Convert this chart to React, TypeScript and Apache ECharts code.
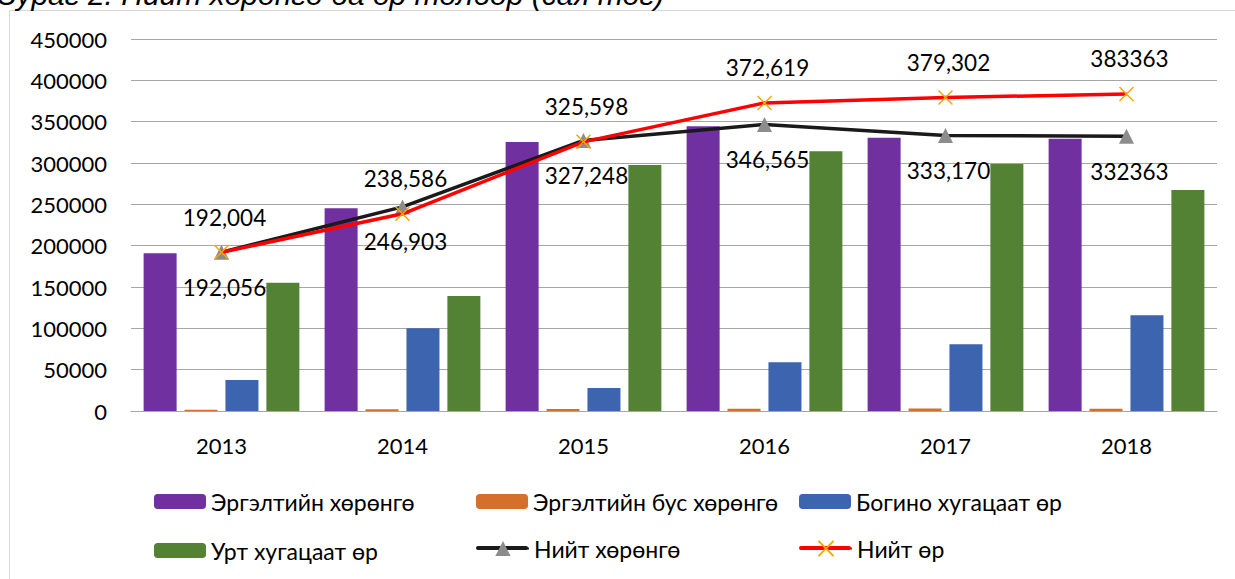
import React, { useEffect, useRef } from "react";
import * as echarts from "echarts";

const categories = ["2013", "2014", "2015", "2016", "2017", "2018"];
const yTicks = { min: 0, max: 450000, interval: 50000 };

const currentAssets = [190800, 245200, 325400, 344500, 330600, 329400];
const nonCurrentAssets = [1600, 2200, 2500, 2600, 2900, 2800];
const shortTermDebt = [37500, 100000, 27800, 58900, 80600, 115700];
const longTermDebt = [155200, 139100, 297600, 314100, 298800, 267300];
const totalAssets = [192056, 246903, 327248, 346565, 333170, 332363];
const totalDebt = [192004, 238586, 325598, 372619, 379302, 383363];
const totalAssetLabels = ["192,056", "246,903", "327,248", "346,565", "333,170", "332363"];
const totalDebtLabels = ["192,004", "238,586", "325,598", "372,619", "379,302", "383363"];

const seriesNames = [
  "Эргэлтийн хөрөнгө",
  "Эргэлтийн бус хөрөнгө",
  "Богино хугацаат өр",
  "Урт хугацаат өр",
  "Нийт хөрөнгө",
  "Нийт өр",
];
const titleText = "Зураг 2. Нийт хөрөнгө ба өр төлбөр (сая төг)";

const FONT = "Lato, 'Noto Sans', sans-serif";

export default function App() {
  const ref = useRef<HTMLDivElement>(null);
  useEffect(() => {
    if (!ref.current) return;
    const chart = echarts.init(ref.current, null, { renderer: "svg" });
    const legendPos = [
      [154, 490],
      [476, 490],
      [799, 490],
      [154, 539],
      [476, 539],
      [799, 539],
    ];
    const legends = seriesNames.map((n, i) => {
      const isLine = i >= 4;
      return {
        data: [n],
        left: legendPos[i][0],
        top: isLine ? legendPos[i][1] - 2 : legendPos[i][1],
        itemWidth: 52,
        itemHeight: isLine ? 19 : 15,
        itemGap: 0,
        padding: 0,
        selectedMode: false,
        z: 4,
        textStyle: { fontSize: 23, color: "#000", fontFamily: FONT },
      };
    });
    const barBase = { type: "bar", barWidth: 33, barGap: "24%" };
    chart.setOption({
      animation: false,
      backgroundColor: "#fff",
      textStyle: { fontFamily: FONT },
      graphic: [
        {
          type: "rect",
          shape: { x: 9.5, y: 10.5, width: 1400, height: 800 },
          style: { fill: "none", stroke: "#d9d9d9", lineWidth: 1 },
          silent: true,
          z: 0,
        },
        {
          type: "rect",
          shape: { x: 476, y: 546, width: 52, height: 4, r: 2 },
          style: { fill: "#1a1a1a" },
          silent: true,
          z: 0,
        },
        {
          type: "rect",
          shape: { x: 799, y: 546, width: 52, height: 4, r: 2 },
          style: { fill: "#ff0000" },
          silent: true,
          z: 0,
        },
        {
          type: "text",
          x: -2,
          y: 9,
          style: {
            text: titleText,
            font: "italic 30px 'Liberation Sans'",
            fill: "#000",
            verticalAlign: "bottom",
          },
        },
      ],
      legend: legends,
      grid: { left: 131, right: 18, top: 39, bottom: 168 },
      xAxis: {
        type: "category",
        data: categories,
        axisLine: { lineStyle: { color: "#a6a6a6", width: 1 } },
        axisTick: { show: false },
        axisLabel: { fontSize: 22, color: "#000", margin: 23, fontFamily: FONT },
      },
      yAxis: {
        type: "value",
        min: yTicks.min,
        max: yTicks.max,
        interval: yTicks.interval,
        axisLine: { show: false },
        axisTick: { show: false },
        splitLine: { lineStyle: { color: "#a6a6a6", width: 1 } },
        axisLabel: {
          fontSize: 22,
          color: "#000",
          margin: 24,
          fontFamily: FONT,
          formatter: (v: number) => String(v),
        },
      },
      series: [
        { ...barBase, name: seriesNames[0], data: currentAssets, itemStyle: { color: "#7030a0" } },
        { ...barBase, name: seriesNames[1], data: nonCurrentAssets, itemStyle: { color: "#d4702c" } },
        { ...barBase, name: seriesNames[2], data: shortTermDebt, itemStyle: { color: "#3d64ae" } },
        { ...barBase, name: seriesNames[3], data: longTermDebt, itemStyle: { color: "#548235" } },
        {
          type: "line",
          name: seriesNames[4],
          data: totalAssets,
          z: 5,
          symbol: "triangle",
          symbolSize: 15,
          lineStyle: { color: "#1a1a1a", width: 3.5 },
          itemStyle: { color: "#8c8c8c" },
          label: {
            show: true,
            position: "bottom",
            distance: 16,
            offset: [3, 0],
            fontSize: 22.5,
            color: "#000",
            fontFamily: FONT,
            formatter: (p: any) => totalAssetLabels[p.dataIndex],
          },
        },
        {
          type: "line",
          name: seriesNames[5],
          data: totalDebt,
          z: 6,
          symbol: "path://M0 0L10 10M10 0L0 10",
          symbolSize: 14,
          lineStyle: { color: "#ff0000", width: 3.5 },
          itemStyle: { color: "#ffc000", borderColor: "#f5a800", borderWidth: 1.5 },
          label: {
            show: true,
            position: "top",
            distance: 16,
            offset: [3, 0],
            fontSize: 22.5,
            color: "#000",
            fontFamily: FONT,
            formatter: (p: any) => totalDebtLabels[p.dataIndex],
          },
        },
      ],
    });
    return () => chart.dispose();
  }, []);
  return (
    <div
      ref={ref}
      style={{ position: "fixed", left: 0, top: 0, width: 1235, height: 579 }}
    />
  );
}
